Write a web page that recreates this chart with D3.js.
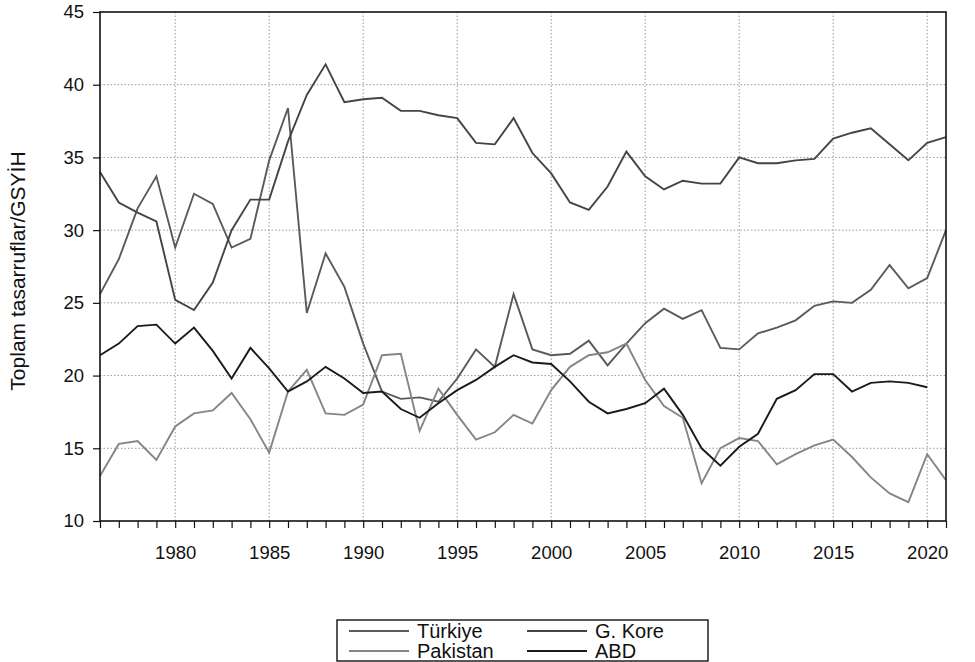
<!DOCTYPE html>
<html>
<head>
<meta charset="utf-8">
<script src="https://cdn.jsdelivr.net/npm/d3@7"></script>
<style>
  body { margin: 0; background: #fff; }
  text { font-family: "Liberation Sans", Arial, sans-serif; fill: #111; }
</style>
</head>
<body>
<div id="chart"></div>
<script>
// Values (% of GDP)
const years = [1976, 1977, 1978, 1979, 1980, 1981, 1982, 1983, 1984, 1985,
  1986, 1987, 1988, 1989, 1990, 1991, 1992, 1993, 1994, 1995,
  1996, 1997, 1998, 1999, 2000, 2001, 2002, 2003, 2004, 2005,
  2006, 2007, 2008, 2009, 2010, 2011, 2012, 2013, 2014, 2015,
  2016, 2017, 2018, 2019, 2020, 2021];

const turkiye = [25.6, 28.0, 31.5, 33.7, 28.8, 32.5, 31.8, 28.8, 29.4, 34.8,
  38.4, 24.3, 28.4, 26.1, 22.2, 18.9, 18.4, 18.5, 18.2, 19.8,
  21.8, 20.6, 25.6, 21.8, 21.4, 21.5, 22.4, 20.7, 22.2, 23.6,
  24.6, 23.9, 24.5, 21.9, 21.8, 22.9, 23.3, 23.8, 24.8, 25.1,
  25.0, 25.9, 27.6, 26.0, 26.7, 30.0];

const gKore = [34.0, 31.9, 31.2, 30.6, 25.2, 24.5, 26.4, 30.0, 32.1, 32.1,
  36.1, 39.3, 41.4, 38.8, 39.0, 39.1, 38.2, 38.2, 37.9, 37.7,
  36.0, 35.9, 37.7, 35.3, 33.9, 31.9, 31.4, 33.0, 35.4, 33.7,
  32.8, 33.4, 33.2, 33.2, 35.0, 34.6, 34.6, 34.8, 34.9, 36.3,
  36.7, 37.0, 35.9, 34.8, 36.0, 36.4];

const pakistan = [13.1, 15.3, 15.5, 14.2, 16.5, 17.4, 17.6, 18.8, 17.0, 14.7,
  18.9, 20.4, 17.4, 17.3, 18.0, 21.4, 21.5, 16.2, 19.1, 17.3,
  15.6, 16.1, 17.3, 16.7, 19.0, 20.6, 21.4, 21.6, 22.2, 19.7,
  17.9, 17.1, 12.6, 15.0, 15.7, 15.5, 13.9, 14.6, 15.2, 15.6,
  14.4, 13.0, 11.9, 11.3, 14.6, 12.8];

const abd = [21.4, 22.2, 23.4, 23.5, 22.2, 23.3, 21.7, 19.8, 21.9, 20.5,
  18.9, 19.6, 20.6, 19.8, 18.8, 18.9, 17.7, 17.1, 18.1, 19.0,
  19.7, 20.6, 21.4, 20.9, 20.8, 19.6, 18.2, 17.4, 17.7, 18.1,
  19.1, 17.3, 15.0, 13.8, 15.1, 16.0, 18.4, 19.0, 20.1, 20.1,
  18.9, 19.5, 19.6, 19.5, 19.2, null];

const yTicks = [10, 15, 20, 25, 30, 35, 40, 45];
const xLabelYears = [1980, 1985, 1990, 1995, 2000, 2005, 2010, 2015, 2020];

const series = [
  { name: "Türkiye", values: turkiye, color: "#5a5a5a" },
  { name: "G. Kore", values: gKore, color: "#444444" },
  { name: "Pakistan", values: pakistan, color: "#858585" },
  { name: "ABD", values: abd, color: "#1a1a1a" }
];

const width = 975, height = 662;
const margin = { top: 12, right: 29, bottom: 141, left: 100 };
const innerW = width - margin.left - margin.right;
const innerH = height - margin.top - margin.bottom;

const svg = d3.select("#chart")
  .append("svg")
  .attr("width", width)
  .attr("height", height);

const g = svg.append("g")
  .attr("transform", `translate(${margin.left},${margin.top})`);

const x = d3.scaleLinear().domain([1976, 2021]).range([0, innerW]);
const y = d3.scaleLinear().domain([10, 45]).range([innerH, 0]);

// dotted grid
g.selectAll("line.hgrid")
  .data(yTicks.filter(v => v > 10 && v < 45))
  .enter().append("line")
  .attr("class", "hgrid")
  .attr("x1", 0).attr("x2", innerW)
  .attr("y1", d => y(d)).attr("y2", d => y(d))
  .attr("stroke", "#9a9a9a")
  .attr("stroke-width", 1)
  .attr("stroke-dasharray", "1.5,2");

g.selectAll("line.vgrid")
  .data(xLabelYears)
  .enter().append("line")
  .attr("class", "vgrid")
  .attr("x1", d => x(d)).attr("x2", d => x(d))
  .attr("y1", 0).attr("y2", innerH)
  .attr("stroke", "#9a9a9a")
  .attr("stroke-width", 1)
  .attr("stroke-dasharray", "1.5,2");

// lines
const line = d3.line()
  .defined(d => d[1] != null)
  .x(d => x(d[0]))
  .y(d => y(d[1]));

g.selectAll("path.series")
  .data(series)
  .enter().append("path")
  .attr("class", "series")
  .attr("fill", "none")
  .attr("stroke", d => d.color)
  .attr("stroke-width", 1.9)
  .attr("stroke-linejoin", "miter")
  .attr("d", d => line(years.map((yr, i) => [yr, d.values[i]])));

// axes
const xAxis = d3.axisBottom(x)
  .tickValues(years)
  .tickSize(7)
  .tickFormat(d => xLabelYears.includes(d) ? d : "");

const gx = g.append("g")
  .attr("transform", `translate(0,${innerH})`)
  .call(xAxis);
gx.select(".domain").remove();
gx.selectAll(".tick line").attr("stroke", "#111").attr("stroke-width", 1.2);
gx.selectAll(".tick text")
  .attr("dy", "28px")
  .style("font-size", "18.5px")
  .style("font-family", "'Liberation Sans', Arial, sans-serif");

const yAxis = d3.axisLeft(y)
  .tickValues(yTicks)
  .tickSize(7)
  .tickPadding(9);

const gy = g.append("g").call(yAxis);
gy.select(".domain").remove();
gy.selectAll(".tick line").attr("stroke", "#111").attr("stroke-width", 1.2);
gy.selectAll(".tick text")
  .style("font-size", "18.5px")
  .style("font-family", "'Liberation Sans', Arial, sans-serif");

// frame
g.append("rect")
  .attr("x", 0).attr("y", 0)
  .attr("width", innerW).attr("height", innerH)
  .attr("fill", "none")
  .attr("stroke", "#111")
  .attr("stroke-width", 1.6);

// y title
svg.append("text")
  .attr("transform", "translate(25,271) rotate(-90)")
  .attr("text-anchor", "middle")
  .style("font-size", "21px")
  .text("Toplam tasarruflar/GSYİH");

// legend
const legend = svg.append("g").attr("transform", "translate(337,620)");
legend.append("rect")
  .attr("width", 371).attr("height", 41)
  .attr("fill", "#fff")
  .attr("stroke", "#111")
  .attr("stroke-width", 1.4);

const cols = [12, 190], rows = [11, 31];
series.forEach((s, i) => {
  const cx = cols[i % 2], cy = rows[Math.floor(i / 2)];
  legend.append("line")
    .attr("x1", cx).attr("x2", cx + 60)
    .attr("y1", cy).attr("y2", cy)
    .attr("stroke", s.color)
    .attr("stroke-width", 1.8);
  legend.append("text")
    .attr("x", cx + 68).attr("y", cy)
    .attr("dy", "0.36em")
    .style("font-size", "20px")
    .text(s.name);
});
</script>
</body>
</html>
